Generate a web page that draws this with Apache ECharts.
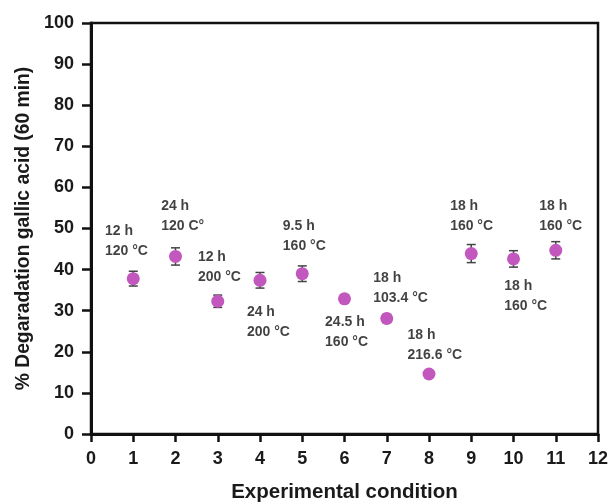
<!DOCTYPE html>
<html><head><meta charset="utf-8">
<script src="https://cdn.jsdelivr.net/npm/echarts@6/dist/echarts.min.js"></script>
<style>html,body{margin:0;padding:0;background:#fff}#c{width:611px;height:502px}</style>
</head><body><div id="c"></div>
<script>
// Data
const conditions = [1,2,3,4,5,6,7,8,9,10,11];
const degradation = [37.8,43.2,32.3,37.4,39.0,32.9,28.1,14.6,43.9,42.6,44.7];
const errors = [1.8,2.1,1.5,1.9,1.9,1.0,1.0,0.8,2.2,2.0,2.1];
const xTicks = [0,1,2,3,4,5,6,7,8,9,10,11,12];
const yTicks = [0,10,20,30,40,50,60,70,80,90,100];
const annotationText = ["12 h\n120 °C","24 h\n120 C°","12 h\n200 °C","24 h\n200 °C","9.5 h\n160 °C","24.5 h\n160 °C","18 h\n103.4 °C","18 h\n216.6 °C","18 h\n160 °C","18 h\n160 °C","18 h\n160 °C"];
const annotationX = [0.33,1.66,2.53,3.69,4.54,5.54,6.68,7.49,8.50,9.78,10.61];
const annotationY = [47.0,53.0,40.6,27.2,48.2,24.7,35.5,21.5,52.9,33.6,52.9];

const FONT = 'Liberation Sans, Arial, sans-serif';
const chart = echarts.init(document.getElementById('c'), null, {renderer:'canvas'});
const axisLine = {show:true, lineStyle:{color:'#111', width:3}};
chart.setOption({
  animation:false,
  backgroundColor:'#fff',
  grid:{left:91, right:13, top:23, bottom:68, show:true, borderColor:'#111', borderWidth:2.5,
    containLabel:false, outerBoundsMode:'none'},
  xAxis:{type:'value', min:0, max:12, interval:1,
    axisLine:axisLine, axisTick:{show:true, length:8, lineStyle:{color:'#111', width:2.5}},
    splitLine:{show:false},
    axisLabel:{margin:16, fontFamily:FONT, fontWeight:'bold', fontSize:18, color:'#1a1a1a',
      formatter:v=>xTicks.includes(v)?String(v):''},
    name:'Experimental condition', nameLocation:'middle', nameGap:48,
    nameTextStyle:{fontFamily:FONT, fontWeight:'bold', fontSize:20.5, color:'#1a1a1a'}
  },
  yAxis:{type:'value', min:0, max:100, interval:10,
    axisLine:axisLine, axisTick:{show:true, length:9, lineStyle:{color:'#111', width:2.5}},
    splitLine:{show:false},
    axisLabel:{margin:17, fontFamily:FONT, fontWeight:'bold', fontSize:18, color:'#1a1a1a',
      formatter:v=>yTicks.includes(v)?String(v):''},
    name:'% Degaradation gallic acid (60 min)', nameLocation:'middle', nameGap:58, nameRotate:90,
    nameTextStyle:{fontFamily:FONT, fontWeight:'bold', fontSize:19.3, color:'#1a1a1a'}
  },
  series:[
    {type:'custom', z:2,
      data:conditions.map((c,i)=>[c, degradation[i]-errors[i], degradation[i]+errors[i]]),
      renderItem:(params, api)=>{
        const lo = api.coord([api.value(0), api.value(1)]);
        const hi = api.coord([api.value(0), api.value(2)]);
        const hw = 4.5;
        const st = {stroke:'#444', lineWidth:1.5};
        return {type:'group', children:[
          {type:'line', shape:{x1:lo[0],y1:lo[1],x2:hi[0],y2:hi[1]}, style:st},
          {type:'line', shape:{x1:lo[0]-hw,y1:lo[1],x2:lo[0]+hw,y2:lo[1]}, style:st},
          {type:'line', shape:{x1:hi[0]-hw,y1:hi[1],x2:hi[0]+hw,y2:hi[1]}, style:st}
        ]};
      }
    },
    {type:'scatter', z:3, symbol:'circle', symbolSize:13,
      itemStyle:{color:'#c257bd', opacity:1},
      data:conditions.map((c,i)=>[c, degradation[i]])
    },
    {type:'scatter', z:4, symbolSize:0, silent:true,
      data:annotationX.map((x,i)=>({value:[x, annotationY[i]], label:{formatter:annotationText[i]}})),
      label:{show:true, position:'right', distance:0, align:'left', verticalAlign:'middle',
        fontFamily:FONT, fontWeight:'bold', fontSize:14, lineHeight:20, color:'#111'}
    }
  ]
});
</script></body></html>
